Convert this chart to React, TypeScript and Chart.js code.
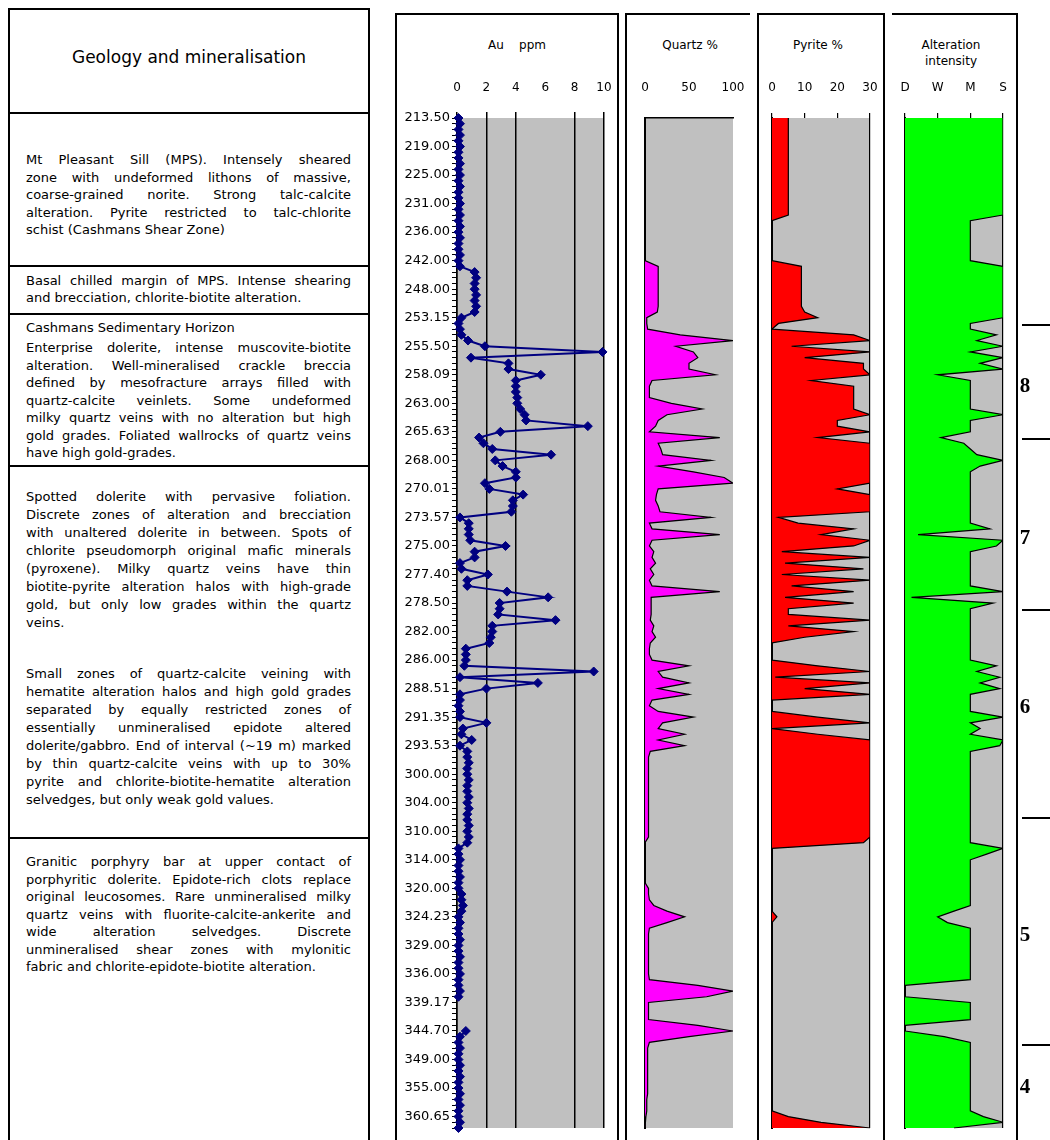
import React, { useEffect, useRef } from 'react';
import { Chart, registerables } from 'chart.js';

Chart.register(...registerables);

// ---- drill-hole log data (one row per sample, 5 sample rows between depth labels) ----
const DEPTH_LABELS = [
  '213.50', '219.00', '225.00', '231.00', '236.00', '242.00', '248.00', '253.15', '255.50',
  '258.09', '263.00', '265.63', '268.00', '270.01', '273.57', '275.00', '277.40', '278.50',
  '282.00', '286.00', '288.51', '291.35', '293.53', '300.00', '304.00', '310.00', '314.00',
  '320.00', '324.23', '329.00', '336.00', '339.17', '344.70', '349.00', '355.00', '360.65',
];
const ROWS_PER_LABEL = 5;

const AU_PPM: (number | null)[] = [
  0.1, 0.2, 0.1, 0.2, 0.1, 0.2, 0.1, 0.1, 0.2, 0.1,
  0.2, 0.1, 0.2, 0.1, 0.1, 0.2, 0.1, 0.2, 0.1, 0.2,
  0.1, 0.2, 0.1, 0.1, 0.2, 0.1, 0.2, 1.2, 1.3, 1.2,
  1.2, 1.3, 1.2, 1.3, 1.2, 0.3, 0.1, 0.2, 0.3, 0.75,
  1.9, 9.9, 0.95, 3.5, 3.5, 5.7, 4.0, 4.0, 4.0, 4.1,
  4.1, 4.3, 4.6, 4.7, 8.9, 2.95, 1.5, 1.8, 2.4, 6.4,
  2.6, 3.1, 4.0, 4.0, 1.9, 2.2, 4.5, 3.8, 3.8, 3.7,
  0.2, 0.8, 0.8, 0.8, 0.9, 3.3, 1.2, 1.2, 0.2, 0.3,
  2.1, 0.7, 0.7, 3.4, 6.2, 2.9, 2.9, 2.8, 6.7, 2.4,
  2.4, 2.3, 2.2, 0.6, 0.6, 0.6, 0.5, 9.3, 0.2, 5.5,
  2.0, 0.2, 0.2, 0.1, 0.2, 0.2, 2.0, 0.4, 0.3, 1.0,
  0.2, 0.7, 0.7, 0.8, 0.7, 0.7, 0.8, 0.7, 0.7, 0.8,
  0.7, 0.8, 0.7, 0.7, 0.8, 0.7, 0.8, 0.7, 0.1, 0.1,
  0.2, 0.1, 0.1, 0.2, 0.1, 0.1, 0.3, 0.3, 0.4, 0.3,
  0.1, 0.2, 0.1, 0.1, 0.2, 0.1, 0.1, 0.2, 0.1, 0.1,
  0.2, 0.1, 0.1, 0.2, 0.1, null, null, null, null, null,
  0.6, 0.2, 0.1, 0.2, 0.1, 0.1, 0.2, 0.1, 0.2, 0.1,
  0.1, 0.2, 0.1, 0.2, 0.1, 0.1, 0.2, 0.1,
];

const QUARTZ_PCT = [
  0, 0, 0, 0, 0, 0, 0, 0, 0, 0,
  0, 0, 0, 0, 0, 0, 0, 0, 0, 0,
  0, 0, 0, 0, 0, 0, 15, 15, 15, 15,
  15, 15, 15, 15, 14, 2, 2, 3, 40, 100,
  35, 55, 60, 50, 50, 80, 8, 5, 5, 5,
  30, 65, 25, 15, 12, 5, 85, 15, 18, 20,
  75, 15, 55, 90, 100, 15, 13, 12, 15, 17,
  75, 5, 8, 85, 8, 5, 10, 8, 12, 6,
  10, 5, 8, 85, 7, 7, 7, 7, 6, 10,
  8, 12, 6, 5, 5, 8, 50, 15, 20, 50,
  15, 50, 8, 5, 15, 55, 20, 15, 45, 15,
  45, 6, 4, 4, 4, 4, 4, 4, 4, 4,
  4, 4, 4, 4, 4, 4, 4, 0, 0, 0,
  0, 0, 0, 0, 0, 4, 4, 5, 10, 25,
  45, 25, 5, 4, 4, 4, 4, 4, 4, 4,
  4, 5, 60, 100, 70, 4, 4, 4, 4, 60,
  100, 50, 5, 3, 3, 3, 3, 3, 3, 3,
  3, 3, 2, 2, 2, 1, 0, 0,
];

const PYRITE_PCT = [
  5, 5, 5, 5, 5, 5, 5, 5, 5, 5,
  5, 5, 5, 5, 5, 5, 5, 5, 0, 0,
  0, 0, 0, 0, 0, 0, 9, 9, 9, 9,
  9, 9, 9, 9, 10, 14, 2, 0, 25, 30,
  6, 30, 10, 28, 28, 30, 12, 25, 25, 25,
  25, 25, 30, 20, 20, 30, 14, 30, 30, 30,
  30, 30, 30, 30, 30, 20, 30, 30, 30, 30,
  2, 8, 25, 15, 30, 25, 3, 30, 4, 28,
  3, 30, 6, 25, 4, 25, 5, 5, 30, 5,
  25, 10, 0, 0, 0, 0, 14, 30, 1, 30,
  10, 30, 0, 0, 0, 14, 30, 0, 14, 30,
  30, 30, 30, 30, 30, 30, 30, 30, 30, 30,
  30, 30, 30, 30, 30, 30, 30, 28, 0, 0,
  0, 0, 0, 0, 0, 0, 0, 0, 0, 0,
  1.5, 0, 0, 0, 0, 0, 0, 0, 0, 0,
  0, 0, 0, 0, 0, 0, 0, 0, 0, 0,
  0, 0, 0, 0, 0, 0, 0, 0, 0, 0,
  0, 0, 0, 0, 0, 5, 15, 30,
];

// 0 = D, 1 = W, 2 = M, 3 = S
const ALTERATION = [
  3, 3, 3, 3, 3, 3, 3, 3, 3, 3,
  3, 3, 3, 3, 3, 3, 3, 3, 2, 2,
  2, 2, 2, 2, 2, 2, 3, 3, 3, 3,
  3, 3, 3, 3, 3, 3, 2, 2, 2.8, 2.2,
  3, 2, 3, 2.3, 3, 1.0, 2, 2, 2, 2,
  2, 2, 3, 2, 2, 2, 1.1, 1.8, 2, 2.2,
  3, 2.3, 2, 2, 2, 2, 2, 2, 2, 2,
  2, 2, 2.6, 0.4, 3, 2.8, 2, 2, 2, 2,
  2, 2, 2, 3, 0.2, 2.7, 2, 2, 2, 2,
  2, 2, 2, 2, 2, 2, 2.8, 2.2, 2.9, 2.3,
  2.9, 2, 2, 2, 2, 3, 2, 2.3, 2, 3,
  2.9, 2, 2, 2, 2, 2, 2, 2, 2, 2,
  2, 2, 2, 2, 2, 2, 2, 2, 3, 2.5,
  2, 2, 2, 2, 2, 2, 2, 2, 2, 1.5,
  1.0, 1.3, 2, 2, 2, 2, 2, 2, 2, 2,
  2, 2, 0, 0, 0, 2, 2, 2, 2, 0,
  0, 1.2, 2, 2, 2, 2, 2, 2, 2, 2,
  2, 2, 2, 2, 2, 2.4, 3, 1.5,
];
const ALTERATION_CLASSES = ['D', 'W', 'M', 'S'];

const ZONES = [
  { label: '8', y: 385 },
  { label: '7', y: 537 },
  { label: '6', y: 706 },
  { label: '5', y: 934 },
  { label: '4', y: 1086 },
];
const ZONE_BOUNDARIES = [324, 438, 609, 817, 1044];

type GeoLine = [string, number, boolean];
const GEOLOGY_LINES: GeoLine[] = [
  ['Mt Pleasant Sill (MPS). Intensely sheared', 160, true],
  ['zone with undeformed lithons of massive,', 177.5, true],
  ['coarse-grained norite. Strong talc-calcite', 195, true],
  ['alteration. Pyrite restricted to talc-chlorite', 212.5, true],
  ['schist (Cashmans Shear Zone)', 230, false],
  ['Basal chilled margin of MPS. Intense shearing', 281, true],
  ['and brecciation, chlorite-biotite alteration.', 298, false],
  ['Cashmans Sedimentary Horizon', 328, false],
  ['Enterprise dolerite, intense muscovite-biotite', 348, true],
  ['alteration. Well-mineralised crackle breccia', 365.5, true],
  ['defined by mesofracture arrays filled with', 383, true],
  ['quartz-calcite veinlets. Some undeformed', 400.5, true],
  ['milky quartz veins with no alteration but high', 418, true],
  ['gold grades. Foliated wallrocks of quartz veins', 435.5, true],
  ['have high gold-grades.', 453, false],
  ['Spotted dolerite with pervasive foliation.', 497, true],
  ['Discrete zones of alteration and brecciation', 515, true],
  ['with unaltered dolerite in between. Spots of', 533, true],
  ['chlorite pseudomorph original mafic minerals', 551, true],
  ['(pyroxene). Milky quartz veins have thin', 569, true],
  ['biotite-pyrite alteration halos with high-grade', 587, true],
  ['gold, but only low grades within the quartz', 605, true],
  ['veins.', 623, false],
  ['Small zones of quartz-calcite veining with', 674, true],
  ['hematite alteration halos and high gold grades', 692, true],
  ['separated by equally restricted zones of', 710, true],
  ['essentially unmineralised epidote altered', 728, true],
  ['dolerite/gabbro. End of interval (~19 m) marked', 746, true],
  ['by thin quartz-calcite veins with up to 30%', 764, true],
  ['pyrite and chlorite-biotite-hematite alteration', 782, true],
  ['selvedges, but only weak gold values.', 800, false],
  ['Granitic porphyry bar at upper contact of', 862, true],
  ['porphyritic dolerite. Epidote-rich clots replace', 879.5, true],
  ['original leucosomes. Rare unmineralised milky', 897, true],
  ['quartz veins with fluorite-calcite-ankerite and', 914.5, true],
  ['wide alteration selvedges. Discrete', 932, true],
  ['unmineralised shear zones with mylonitic', 949.5, true],
  ['fabric and chlorite-epidote-biotite alteration.', 967, false],
];
const GEOLOGY_DIVIDERS = [112, 265, 313, 465, 837];

const ROW_LABELS = AU_PPM.map((_, i) =>
  i % ROWS_PER_LABEL === 0 ? DEPTH_LABELS[i / ROWS_PER_LABEL] ?? '' : ''
);

// ---- styling ----
const FONT = "'DejaVu Sans', sans-serif";
const PLOT_GRAY = '#c0c0c0';
const NAVY = '#000080';
const CANVAS_TOP = 13;
const CANVAS_HEIGHT = 1127;
const AXIS_BAND = 105; // header band above each plot area

const plotBackground = {
  id: 'plotBackground',
  beforeDraw(chart: any, _args: any, opts: any) {
    const { ctx, chartArea: a } = chart;
    ctx.save();
    ctx.fillStyle = opts.color || PLOT_GRAY;
    ctx.fillRect(a.left, a.top, a.right - a.left, a.bottom - a.top);
    ctx.restore();
  },
};

const fixedSize = (size: number) => (scale: any) => {
  if (scale.isHorizontal()) scale.height = size;
  else scale.width = size;
  scale.paddingLeft = 0;
  scale.paddingRight = 0;
  scale.paddingTop = 0;
  scale.paddingBottom = 0;
};

const tickFont = { family: FONT, size: 12 };

function depthAxis(width: number, showLabels: boolean) {
  return {
    type: 'category',
    ticks: {
      display: showLabels,
      autoSkip: false,
      padding: 2,
      color: '#000',
      font: { family: FONT, size: 13 },
    },
    grid: {
      display: showLabels,
      drawOnChartArea: false,
      tickLength: 5,
      color: '#000',
    },
    border: { display: true, color: '#000', width: showLabels ? 1.5 : 2 },
    afterFit: fixedSize(width),
  };
}

function baseOptions(rightPad: number) {
  return {
    indexAxis: 'y',
    animation: false,
    responsive: false,
    maintainAspectRatio: false,
    devicePixelRatio: 1,
    events: [],
    layout: { padding: { left: 0, right: rightPad, top: 0, bottom: 12 } },
  };
}

function auConfig(): any {
  return {
    type: 'line',
    data: {
      labels: ROW_LABELS,
      datasets: [
        {
          data: AU_PPM,
          borderColor: NAVY,
          borderWidth: 2,
          pointStyle: 'rectRot',
          pointRadius: 4.5,
          pointBackgroundColor: NAVY,
          pointBorderColor: NAVY,
          pointBorderWidth: 1,
          fill: false,
          spanGaps: false,
          clip: false,
        },
      ],
    },
    options: {
      ...baseOptions(14),
      plugins: { legend: { display: false }, tooltip: { enabled: false }, plotBackground: { color: PLOT_GRAY } },
      scales: {
        x: {
          type: 'linear',
          position: 'top',
          min: 0,
          max: 10,
          ticks: { stepSize: 2, padding: 17, color: '#000', font: tickFont },
          grid: {
            color: (c: any) => (c.tick && c.tick.value === 6 ? 'rgba(0,0,0,0)' : '#000'),
            lineWidth: 1.5,
            tickLength: 6,
          },
          border: { display: false },
          afterFit: fixedSize(AXIS_BAND),
        },
        y: depthAxis(62, true),
      },
    },
    plugins: [plotBackground],
  };
}

function areaConfig(
  values: number[],
  fillColor: string,
  max: number,
  step: number,
  leftWidth: number,
  rightPad: number,
  kind: 'quartz' | 'track'
): any {
  const isQuartz = kind === 'quartz';
  return {
    type: 'line',
    data: {
      labels: ROW_LABELS,
      datasets: [
        {
          data: values,
          borderColor: '#000',
          borderWidth: 1.2,
          backgroundColor: fillColor,
          fill: 'origin',
          pointRadius: 0,
        },
      ],
    },
    options: {
      ...baseOptions(rightPad),
      plugins: { legend: { display: false }, tooltip: { enabled: false }, plotBackground: { color: PLOT_GRAY } },
      scales: {
        x: {
          type: 'linear',
          position: 'top',
          min: 0,
          max,
          ticks: {
            stepSize: step,
            padding: isQuartz ? 23 : 18,
            color: '#000',
            font: tickFont,
            callback: (v: number) => (max === 3 ? ALTERATION_CLASSES[v] : String(v)),
          },
          grid: isQuartz
            ? { display: false, drawTicks: false }
            : {
                color: (c: any) => (c.tick && c.tick.value === max ? '#000' : 'rgba(0,0,0,0)'),
                tickColor: '#000',
                lineWidth: 1.2,
                tickLength: 5,
              },
          border: isQuartz ? { display: true, color: '#000', width: 1.5 } : { display: false },
          afterFit: fixedSize(AXIS_BAND),
        },
        y: depthAxis(leftWidth, false),
      },
    },
    plugins: [plotBackground],
  };
}

const quartzConfig = () => areaConfig(QUARTZ_PCT, '#ff00ff', 100, 50, 19, 17, 'quartz');
const pyriteConfig = () => areaConfig(PYRITE_PCT, '#ff0000', 30, 10, 15, 14, 'track');
const alterationConfig = () => areaConfig(ALTERATION, '#00ff00', 3, 1, 15, 14, 'track');

type PanelProps = { left: number; width: number; build: () => any };

function ChartPanel({ left, width, build }: PanelProps) {
  const ref = useRef<HTMLCanvasElement | null>(null);
  useEffect(() => {
    if (!ref.current) return;
    const chart = new Chart(ref.current, build());
    return () => chart.destroy();
  }, [build]);
  return (
    <canvas
      ref={ref}
      width={width}
      height={CANVAS_HEIGHT}
      style={{ position: 'absolute', left, top: CANVAS_TOP, width, height: CANVAS_HEIGHT }}
    />
  );
}

const abs = (s: React.CSSProperties): React.CSSProperties => ({ position: 'absolute', ...s });

function GeoLineView({ text, y, justify }: { text: string; y: number; justify: boolean }) {
  const base: React.CSSProperties = abs({
    left: 26,
    top: y - 8,
    width: 325,
    height: 16,
    lineHeight: '16px',
    fontSize: 13,
    fontFamily: FONT,
    color: '#000',
    whiteSpace: 'nowrap',
  });
  if (!justify) return <div style={base}>{text}</div>;
  return (
    <div style={{ ...base, display: 'flex', justifyContent: 'space-between' }}>
      {text.split(' ').map((w, i) => (
        <span key={i}>{w}</span>
      ))}
    </div>
  );
}

function Heading({ text, cx, y, size = 12, lh }: { text: string; cx: number; y: number; size?: number; lh?: number }) {
  const lineH = lh ?? Math.round(size * 1.4);
  return (
    <div
      style={abs({
        left: cx - 200,
        top: y - lineH / 2,
        width: 400,
        textAlign: 'center',
        fontFamily: FONT,
        fontSize: size,
        lineHeight: `${lineH}px`,
        color: '#000',
        whiteSpace: 'pre',
      })}
    >
      {text}
    </div>
  );
}

export default function App() {
  const line = '2px solid #000';
  return (
    <div style={abs({ left: 0, top: 0, width: 1050, height: 1140, overflow: 'hidden', background: '#fff' })}>
      {/* geology column */}
      <div style={abs({ left: 8, top: 8, width: 362, height: 1200, border: line, boxSizing: 'border-box' })} />
      {GEOLOGY_DIVIDERS.map((y) => (
        <div key={y} style={abs({ left: 8, top: y, width: 362, height: 2, background: '#000' })} />
      ))}
      <Heading text="Geology and mineralisation" cx={189} y={57} size={17} />
      {GEOLOGY_LINES.map(([t, y, j], i) => (
        <GeoLineView key={i} text={t} y={y} justify={j} />
      ))}

      {/* track frames */}
      <div style={abs({ left: 395, top: CANVAS_TOP, width: 224, height: 1200, border: line, boxSizing: 'border-box' })} />
      <div style={abs({ left: 625, top: CANVAS_TOP, width: 125, height: 1200, borderTop: line, borderLeft: line, boxSizing: 'border-box' })} />
      <div style={abs({ left: 757, top: CANVAS_TOP, width: 128, height: 1200, border: line, boxSizing: 'border-box' })} />
      <div style={abs({ left: 892, top: CANVAS_TOP, width: 126, height: 1200, borderTop: line, borderRight: line, boxSizing: 'border-box' })} />

      <Heading text={'Au    ppm'} cx={517} y={45} />
      <Heading text="Quartz %" cx={690} y={45} />
      <Heading text="Pyrite %" cx={818} y={45} />
      <Heading text={'Alteration\nintensity'} cx={951} y={45} size={12} lh={16} />

      <ChartPanel left={395} width={223} build={auConfig} />
      <ChartPanel left={626} width={124} build={quartzConfig} />
      <ChartPanel left={757} width={127} build={pyriteConfig} />
      <ChartPanel left={890} width={127} build={alterationConfig} />

      {/* zone markers */}
      {ZONE_BOUNDARIES.map((y) => (
        <div key={y} style={abs({ left: 1022, top: y, width: 28, height: 1.5, background: '#000' })} />
      ))}
      {ZONES.map((z) => (
        <div
          key={z.label}
          style={abs({
            left: 1015,
            top: z.y - 12,
            width: 20,
            height: 24,
            lineHeight: '24px',
            textAlign: 'center',
            fontFamily: "'Liberation Serif', serif",
            fontWeight: 'bold',
            fontSize: 21,
            color: '#000',
          })}
        >
          {z.label}
        </div>
      ))}
    </div>
  );
}
